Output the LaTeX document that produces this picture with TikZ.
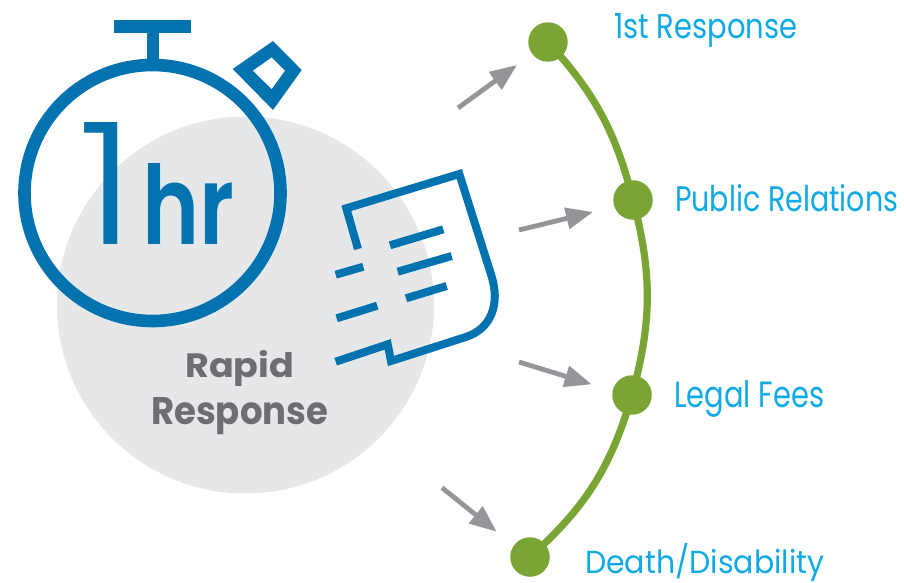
\documentclass[tikz,border=0pt]{standalone}
\usepackage{fontspec}
\setmainfont{Poppins}[BoldFont=* Bold]
\newfontfamily\hrfont{Poppins}[UprightFont=* SemiBold]
\newfontfamily\onefont{Poppins}[UprightFont=* Light]
\usetikzlibrary{arrows.meta}
\definecolor{bluedk}{HTML}{0273AE}
\definecolor{bluelt}{HTML}{0FA9E6}
\definecolor{greenc}{HTML}{7AA433}
\definecolor{grayc}{HTML}{939598}
\definecolor{graybg}{HTML}{E6E7E8}
\definecolor{graytx}{HTML}{6D6E71}
\newcommand{\fitbox}[3]{\resizebox{#1pt}{#2pt}{#3}}
\tikzset{
  ico/.style={draw=bluedk,line width=8pt,line join=miter,miter limit=10},
  dotn/.style={circle,fill=greenc,minimum size=39.5pt,inner sep=0pt},
  lab/.style={anchor=base west,inner sep=0pt,text=bluelt,font=\fontsize{20}{24}\selectfont},
  rr/.style={anchor=base west,inner sep=0pt,text=graytx,font=\fontsize{20}{24}\selectfont\bfseries},
  big/.style={anchor=base west,inner sep=0pt,text=bluedk,font=\fontsize{60}{70}\selectfont},
  arr/.style={draw=grayc,line width=4.8pt,-{Triangle[length=27pt,width=21pt,fill=grayc]},shorten >=0pt},
  arc/.style={draw=greenc,line width=7.2pt}
}
\begin{document}
\begin{tikzpicture}[x=1pt,y=-1pt]
\useasboundingbox (0,0) rectangle (904,582);
% grey disc
\fill[graybg] (245.5,305) circle (188.5);
% stopwatch
\draw[bluedk,line width=12.6pt] (152.5,193) circle (128);
\fill[bluedk] (114,20) rectangle (191,32.7);
\fill[bluedk] (146.5,32) rectangle (159,62);
\fill[bluedk,even odd rule] (273,41) -- (301.7,70) -- (273,110) -- (232.7,69) -- cycle
  (271.7,57.3) -- (285,70.7) -- (271.7,89.3) -- (252.7,70.7) -- cycle;
\node[big] (one) at (78,244) {\fitbox{57}{122}{\onefont 1}};
\node[big] (hr) at (142,244) {\fitbox{92}{81}{\hrfont hr}};
% document
\draw[ico] (358,249) -- (346.3,208.3) -- (459.3,174) -- (491.5,276)
  .. controls (500,303) and (492,328) .. (466.7,336.7)
  -- (391,361) -- (387.7,344.3) -- (335.7,361.7);
\draw[ico] (390,245.3) -- (443.3,229.3);
\draw[ico] (397.7,271.7) -- (451.7,256);
\draw[ico] (406,298.3) -- (446.7,286);
\draw[ico] (335.7,274.7) -- (363.3,266.7);
\draw[ico] (336.7,318.3) -- (377.3,305.7);
% caption
\node[rr] (rapid) at (185,377) {\fitbox{109}{27}{Rapid}};
\node[rr] (resp) at (151,424) {\fitbox{177}{27}{Response}};
% timeline
\node[dotn] (a) at (548,42) {};
\node[dotn] (b) at (633,200) {};
\node[dotn] (c) at (632,395) {};
\node[dotn] (d) at (530,557) {};
\draw[arc] (a.center) to[bend left=14] (b.center);
\draw[arc] (b.center) to[bend left=15] (c.center);
\draw[arc] (c.center) to[bend left=16] (d.center);
% arrows
\coordinate (s1) at (458,108); \coordinate (t1) at (517,65);
\coordinate (s2) at (519,230); \coordinate (t2) at (593,212);
\coordinate (s3) at (519,362); \coordinate (t3) at (591.7,384.3);
\coordinate (s4) at (442,487.7); \coordinate (t4) at (496.7,531.7);
\draw[arr] (s1) -- (t1);
\draw[arr] (s2) -- (t2);
\draw[arr] (s3) -- (t3);
\draw[arr] (s4) -- (t4);
% labels
\node[lab] (l1) at (614,38) {\fitbox{183}{25}{1st Response}};
\node[lab] (l2) at (675,211) {\fitbox{223}{27}{Public Relations}};
\node[lab] (l3) at (674,407) {\fitbox{150}{27}{Legal Fees}};
\node[lab] (l4) at (585,573) {\fitbox{239}{30}{Death/Disability}};
\end{tikzpicture}
\end{document}
